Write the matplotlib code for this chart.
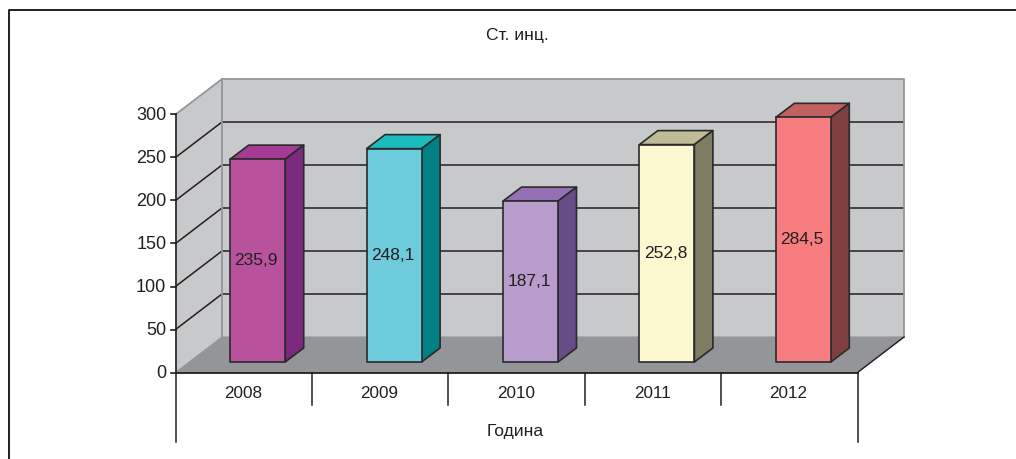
import matplotlib
matplotlib.use('Agg')
import matplotlib.pyplot as plt
from matplotlib.patches import Polygon
from matplotlib.lines import Line2D

plt.rcParams['font.family'] = ['Liberation Sans', 'DejaVu Sans']

years = ['2008', '2009', '2010', '2011', '2012']
values = [235.9, 248.1, 187.1, 252.8, 284.5]
labels = ['235,9', '248,1', '187,1', '252,8', '284,5']
front_colors = ['#b8529c', '#6dcbdc', '#b89ccb', '#fcf8cf', '#f87d80']
top_colors = ['#a53a94', '#1abcbe', '#9670b4', '#bebc96', '#c06060']
side_colors = ['#7b287e', '#008083', '#674c88', '#7e7d62', '#804040']
y_ticks = [0, 50, 100, 150, 200, 250, 300]

W, H = 1016, 459
X0, X1 = 175.5, 857.5
Y0, Y300 = 372.5, 114.5
PX = (X1 - X0) / 5
PY = (Y0 - Y300) / 300
# depth of the 3d box and size of a bar, in data units
DX = 46.5 / PX
DY = 35.5 / PY
BAR_W = 55 / PX
BAR_OFF = 14 / PX
BAR_LIFT = 10.5 / PY
BAR_DX = 18.5 / PX
BAR_DY = 14 / PY
INK = '#231f20'
EDGE = '#2a2a2c'


def poly(ax, pts, fc, ec=EDGE, lw=1.2, z=2):
    ax.add_patch(Polygon(pts, closed=True, facecolor=fc, edgecolor=ec,
                         linewidth=lw, joinstyle='round', clip_on=False, zorder=z))


fig = plt.figure(figsize=(W / 100, H / 100), dpi=100)
# only the top and left of the outer frame show
fig.add_artist(Line2D([1, 8.5 / W, 8.5 / W], [1 - 10 / H, 1 - 10 / H, 0],
                      transform=fig.transFigure, color=INK, linewidth=1.4))

ax = fig.add_axes([X0 / W, 1 - Y0 / H, (X1 - X0) / W, (Y0 - Y300) / H])
ax.set_xlim(0, 5)
ax.set_ylim(0, 300)
ax.axis('off')

# walls and floor
poly(ax, [(DX, DY), (5 + DX, DY), (5 + DX, 300 + DY), (DX, 300 + DY)], '#c8c9cb', 'none', 0, 1)
poly(ax, [(0, 0), (DX, DY), (DX, 300 + DY), (0, 300)], '#c8c9cb', 'none', 0, 1)
poly(ax, [(0, 0), (5, 0), (5 + DX, DY), (DX, DY)], '#949598', '#949598', 0.8, 1.2)

# gridlines
for t in y_ticks[1:-1]:
    ax.plot([0, DX, 5 + DX], [t, t + DY, t + DY], color=INK, lw=1.1, clip_on=False, zorder=1.5)
ax.plot([0, DX, 5 + DX, 5 + DX], [300, 300 + DY, 300 + DY, DY], color='#959699', lw=1.3,
        clip_on=False, zorder=1.6)
ax.plot([DX, DX], [DY, 300 + DY], color='#959699', lw=1.3, clip_on=False, zorder=1.6)

# axes
ax.plot([0, 5], [0, 0], color=INK, lw=1.3, clip_on=False, zorder=1.8)
ax.plot([5, 5 + DX], [0, DY], color=INK, lw=1.0, clip_on=False, zorder=1.8)
ax.plot([0, 0], [0, 300], color=INK, lw=1.2, clip_on=False, zorder=1.8)
for t in y_ticks:
    ax.plot([-0.03, 0], [t, t], color=INK, lw=1.2, clip_on=False)
    ax.text(-0.067, t - 1.5, str(t), ha='right', va='center', fontsize=13, color=INK)

# category separators below the axis
ax.plot([0, 0], [0, -81], color=INK, lw=1.1, clip_on=False)
ax.plot([5, 5], [0, -81], color=INK, lw=1.1, clip_on=False)
for i in range(1, 5):
    ax.plot([i, i], [0, -38], color=INK, lw=1.1, clip_on=False)

# bars
for i, v in enumerate(values):
    left = i + 0.5 - BAR_W / 2 + BAR_OFF
    right = left + BAR_W
    base = BAR_LIFT
    top = v + BAR_LIFT
    poly(ax, [(left, top), (right, top), (right + BAR_DX, top + BAR_DY), (left + BAR_DX, top + BAR_DY)],
         top_colors[i], z=3)
    poly(ax, [(right, base), (right + BAR_DX, base + BAR_DY), (right + BAR_DX, top + BAR_DY), (right, top)],
         side_colors[i], z=3)
    poly(ax, [(left, base), (right, base), (right, top), (left, top)], front_colors[i], z=3)
    ax.text((left + right) / 2 - 0.01, (base + top) / 2, labels[i], ha='center', va='center',
            fontsize=12.5, color=INK, zorder=4)
    ax.text(i + 0.495, -24, years[i], ha='center', va='center', fontsize=12.3, color=INK)

ax.text(2.49, -69, 'Година', ha='center', va='center', fontsize=12.6, color=INK)
fig.text(517.5 / W, 1 - 35.5 / H, 'Ст. инц.', ha='center', va='center', fontsize=12.6, color=INK)

fig.savefig('out.png', dpi=100)
